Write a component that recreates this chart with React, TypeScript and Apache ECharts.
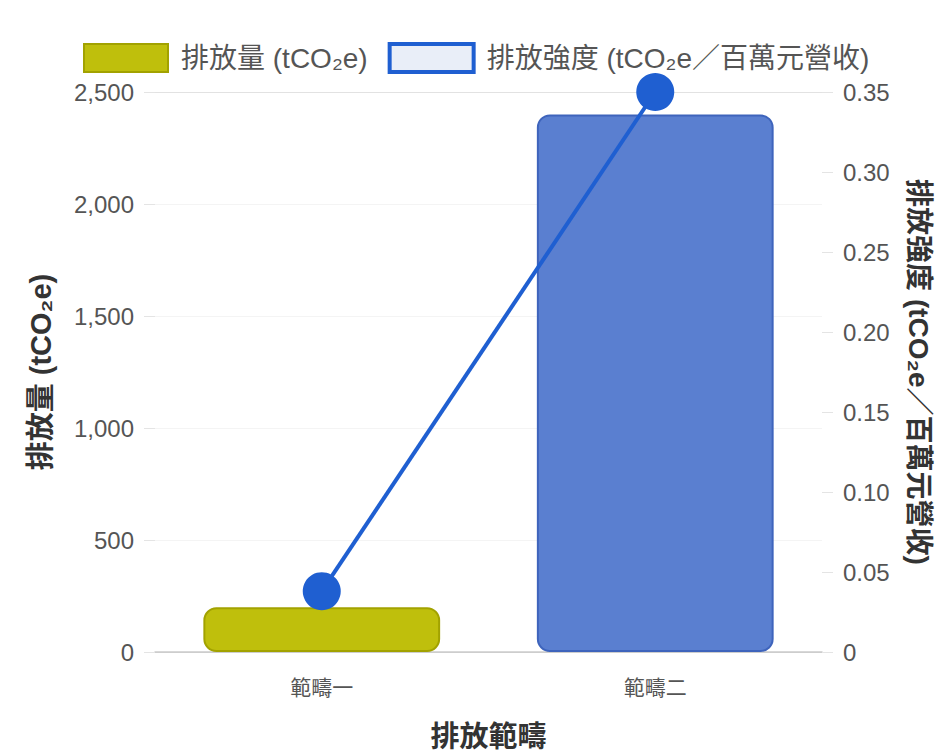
import React, { useEffect, useRef } from "react";
import * as echarts from "echarts";

const categories = ["範疇一", "範疇二"];
const emissions = [200, 2400];
const intensity = [0.038, 0.35];
const seriesNames = ["排放量 (tCO₂e)", "排放強度 (tCO₂e／百萬元營收)"];
const xAxisName = "排放範疇";
const leftAxisName = "排放量 (tCO₂e)";
const rightAxisName = "排放強度 (tCO₂e／百萬元營收)";

const FONT = "'Liberation Sans', 'Noto Sans CJK TC', sans-serif";

export default function App() {
  const ref = useRef<HTMLDivElement>(null);
  useEffect(() => {
    if (!ref.current) return;
    const chart = echarts.init(ref.current, undefined, { renderer: "svg" });
    const barColors = [
      { fill: "#bfbf0c", border: "#a2a200" },
      { fill: "#5a7fd0", border: "#3e64bc" },
    ];
    chart.setOption({
      animation: false,
      backgroundColor: "#ffffff",
      textStyle: { fontFamily: FONT },
      legend: {
        left: 78,
        top: 37,
        itemWidth: 84,
        itemHeight: 28,
        itemGap: 20,
        textStyle: { fontSize: 28, color: "#555555", fontFamily: FONT, padding: [0, 0, 0, 8] },
        data: [
          {
            name: seriesNames[0],
            icon: "rect",
            itemStyle: { color: barColors[0].fill, borderColor: barColors[0].border, borderWidth: 2 },
          },
          {
            name: seriesNames[1],
            icon: "rect",
            itemStyle: { color: "#e9eef8", borderColor: "#1f5fd1", borderWidth: 4 },
          },
        ],
      },
      grid: {
        left: 155,
        right: 113,
        top: 92,
        bottom: 101,
        containLabel: false,
        outerBoundsMode: "none",
      },
      xAxis: {
        type: "category",
        data: categories,
        name: xAxisName,
        nameLocation: "middle",
        nameGap: 70,
        nameTextStyle: { fontSize: 29, fontWeight: "bold", color: "#333333", fontFamily: FONT },
        axisLine: { show: true, lineStyle: { color: "#cccccc", width: 1.5 } },
        axisTick: { show: false },
        axisLabel: { fontSize: 21, color: "#555555", margin: 25, fontFamily: FONT },
        splitLine: { show: false },
      },
      yAxis: [
        {
          type: "value",
          min: 0,
          max: 2500,
          interval: 500,
          name: leftAxisName,
          nameLocation: "middle",
          nameRotate: 90,
          nameGap: 100,
          nameTextStyle: { fontSize: 29, fontWeight: "bold", color: "#333333", fontFamily: FONT },
          axisLine: { show: false },
          axisTick: { show: true, length: 11, lineStyle: { color: "#e4e4e4" } },
          axisLabel: {
            fontSize: 24,
            color: "#555555",
            margin: 21,
            fontFamily: FONT,
            formatter: (v: number) => v.toLocaleString("en-US"),
          },
          splitLine: {
            show: true,
            lineStyle: {
              color: ["#d0d0d0", "#f4f4f4", "#f4f4f4", "#f4f4f4", "#f4f4f4", "#e2e2e2"],
              width: 1,
            },
          },
        },
        {
          type: "value",
          min: 0,
          max: 0.35,
          interval: 0.05,
          name: rightAxisName,
          nameLocation: "middle",
          nameRotate: -90,
          nameGap: 82,
          nameTextStyle: { fontSize: 28, fontWeight: "bold", color: "#333333", fontFamily: FONT },
          axisLine: { show: false },
          axisTick: { show: true, length: 11, lineStyle: { color: "#e4e4e4" } },
          axisLabel: {
            fontSize: 24,
            color: "#555555",
            margin: 21,
            fontFamily: FONT,
            formatter: (v: number) => (v === 0 ? "0" : v.toFixed(2)),
          },
          splitLine: { show: false },
        },
      ],
      series: [
        {
          name: seriesNames[0],
          type: "bar",
          yAxisIndex: 0,
          barWidth: "71%",
          z: 2,
          data: emissions.map((v, i) => ({
            value: v,
            itemStyle: {
              color: barColors[i].fill,
              borderColor: barColors[i].border,
              borderWidth: 2,
              borderRadius: 12,
            },
          })),
        },
        {
          name: seriesNames[1],
          type: "line",
          yAxisIndex: 1,
          z: 3,
          data: intensity,
          symbol: "circle",
          symbolSize: 38,
          lineStyle: { color: "#1f5fd1", width: 4 },
          itemStyle: { color: "#1f5fd1" },
        },
      ],
    });
    return () => chart.dispose();
  }, []);
  return (
    <div
      ref={ref}
      style={{ position: "fixed", left: 0, top: 0, width: 935, height: 753 }}
    />
  );
}
